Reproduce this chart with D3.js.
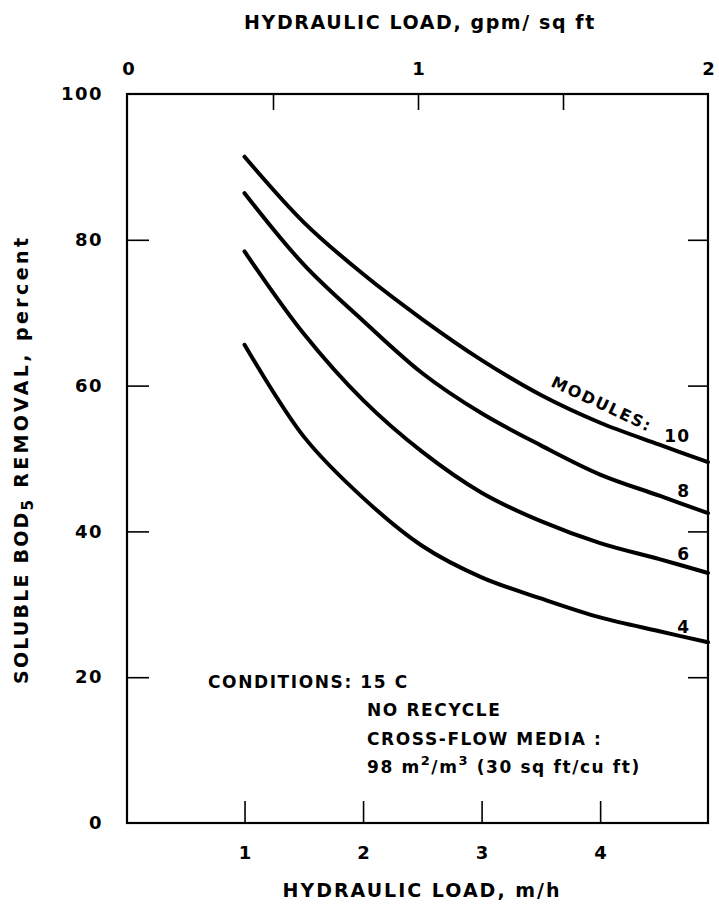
<!DOCTYPE html>
<html>
<head>
<meta charset="utf-8">
<script src="https://cdn.jsdelivr.net/npm/d3@7"></script>
<style>
  body { margin: 0; background: #fff; }
  svg text { font-family: "DejaVu Sans", "Liberation Sans", Arial, sans-serif; font-weight: bold; fill: #000; }
</style>
</head>
<body>
<script>
// values
let loadMh = [1.0, 1.5, 2.0, 2.5, 3.0, 3.5, 4.0, 4.5, 4.91];
let modules = [10, 8, 6, 4];
let removal10 = [91.4, 82.4, 75.3, 69.1, 63.5, 58.7, 54.9, 51.9, 49.5];
let removal8 = [86.4, 76.6, 68.9, 61.7, 56.2, 51.8, 47.8, 44.9, 42.5];
let removal6 = [78.4, 67.1, 58.0, 50.9, 45.3, 41.4, 38.4, 36.2, 34.3];
let removal4 = [65.6, 53.0, 44.6, 38.0, 33.7, 30.8, 28.2, 26.3, 24.8];
let bottomTicks = [1, 2, 3, 4];
let topTicks = [0, 0.5, 1, 1.5, 2];
let yTicks = [0, 20, 40, 60, 80, 100];

let w = 719;
let h = 908;
let padding =
    {
      top: 94,
      left: 127,
      right: 11,
      bottom: 85
    }

let svg = d3.select("body").append("svg").attr("width", w).attr("height", h);

let scaleX = d3.scaleLinear().domain([0, 4.91]).range([padding.left - 1, w - padding.right]);
let scaleTop = d3.scaleLinear().domain([0, 2]).range([padding.left + 1, w - padding.right]);
let scaleY = d3.scaleLinear().domain([0, 100]).range([h - padding.bottom, padding.top]);

let DrawAxis = () =>
{
  let bottom = svg.append("g")
    .attr("transform", "translate(0," + (h - padding.bottom) + ")")
    .call(d3.axisBottom(scaleX).tickValues(bottomTicks).tickSize(-22).tickPadding(23).tickFormat(d3.format("d")));
  let top = svg.append("g")
    .attr("transform", "translate(0," + padding.top + ")")
    .call(d3.axisTop(scaleTop).tickValues(topTicks).tickSize(-16).tickPadding(19)
      .tickFormat((d) => Number.isInteger(d) ? d : ""));
  top.selectAll(".tick line").filter((d) => Number.isInteger(d) && d != 1).remove();
  let left = svg.append("g")
    .attr("transform", "translate(" + padding.left + ",0)")
    .call(d3.axisLeft(scaleY).tickValues(yTicks).tickSize(-22).tickPadding(24));
  left.selectAll(".tick line").filter((d) => d == 0 || d == 100).remove();
  let right = svg.append("g")
    .attr("transform", "translate(" + (w - padding.right) + ",0)")
    .call(d3.axisRight(scaleY).tickValues([20, 40, 60, 80]).tickSize(-20).tickFormat(""));
  [bottom, top, left, right].forEach((g) =>
  {
    g.select(".domain").remove();
    g.selectAll(".tick line").attr("stroke", "#000").attr("stroke-width", 1.6);
    g.selectAll(".tick text").attr("font-size", 18).attr("font-family", null);
  });
  left.selectAll(".tick text").attr("letter-spacing", 1.5);

  svg.append("rect")
    .attr("x", padding.left)
    .attr("y", padding.top)
    .attr("width", w - padding.left - padding.right)
    .attr("height", h - padding.top - padding.bottom)
    .attr("fill", "none")
    .attr("stroke", "#000")
    .attr("stroke-width", 2.2);
}

let DrawText = () =>
{
  svg.append("text")
    .text("HYDRAULIC LOAD, gpm/ sq ft")
    .attr("x", 420)
    .attr("y", 29)
    .attr("font-size", 19)
    .attr("letter-spacing", 1.6)
    .attr("text-anchor", "middle");
  svg.append("text")
    .text("HYDRAULIC LOAD, m/h")
    .attr("x", 422)
    .attr("y", 897)
    .attr("font-size", 19)
    .attr("letter-spacing", 2)
    .attr("text-anchor", "middle");
  let yt = svg.append("text")
    .attr("transform", "translate(28,684) rotate(-90)")
    .attr("font-size", 19)
    .attr("letter-spacing", 2.2);
  yt.append("tspan").text("SOLUBLE BOD");
  yt.append("tspan").text("5").attr("font-size", 15).attr("dy", 5);
  yt.append("tspan").text(" REMOVAL, percent").attr("dy", -5).attr("letter-spacing", 3.4);

  let cond = svg.append("g").attr("font-size", 17).attr("letter-spacing", 1.6);
  cond.append("text").text("CONDITIONS:  15 C").attr("x", 208).attr("y", 688);
  cond.append("text").text("NO RECYCLE").attr("x", 367).attr("y", 716);
  cond.append("text").text("CROSS-FLOW MEDIA :").attr("x", 367).attr("y", 745);
  let m = cond.append("text").attr("x", 367).attr("y", 773);
  m.append("tspan").text("98 m");
  m.append("tspan").text("2").attr("font-size", 13).attr("dy", -8);
  m.append("tspan").text("/m").attr("dy", 8);
  m.append("tspan").text("3").attr("font-size", 13).attr("dy", -8);
  m.append("tspan").text(" (30 sq ft/cu ft)").attr("dy", 8);
}

let DrawLines = () =>
{
  let series = [removal10, removal8, removal6, removal4];
  let line = d3.line()
    .x((d, i) => scaleX(loadMh[i]))
    .y((d) => scaleY(d))
    .curve(d3.curveCatmullRom.alpha(0.5));
  svg.selectAll(".curve").data(series).enter().append("path")
    .attr("class", "curve")
    .attr("d", line)
    .attr("fill", "none")
    .attr("stroke", "#000")
    .attr("stroke-width", 4)
    .attr("stroke-linecap", "round");

  // module labels near the right end of each curve
  let labelY = [442, 497, 560, 633];
  svg.selectAll(".mod").data(modules).enter().append("text")
    .attr("class", "mod")
    .text((d) => d)
    .attr("x", 690)
    .attr("y", (d, i) => labelY[i])
    .attr("font-size", 17)
    .attr("letter-spacing", 1)
    .attr("text-anchor", "end");
  svg.append("text")
    .text("MODULES:")
    .attr("transform", "translate(550,386) rotate(25)")
    .attr("font-size", 16)
    .attr("letter-spacing", 1.8);
}

DrawAxis();
DrawLines();
DrawText();
</script>
</body>
</html>
